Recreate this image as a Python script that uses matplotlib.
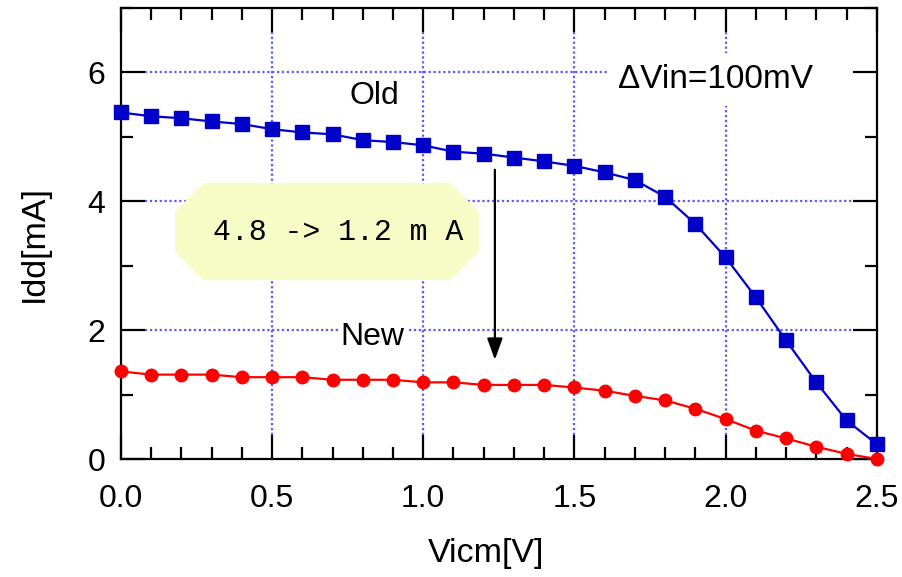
"""Idd vs Vicm for the old and new input stage (dVin = 100 mV)."""

import matplotlib

matplotlib.use("Agg")
import matplotlib.pyplot as plt  # noqa: E402
from matplotlib.patches import Polygon  # noqa: E402
from matplotlib.ticker import FormatStrFormatter, MultipleLocator  # noqa: E402

# Common-mode sweep [V]
vicm = [0.0, 0.1, 0.2, 0.3, 0.4, 0.5, 0.6, 0.7, 0.8, 0.9, 1.0, 1.1, 1.2,
        1.3, 1.4, 1.5, 1.6, 1.7, 1.8, 1.9, 2.0, 2.1, 2.2, 2.3, 2.4, 2.5]

# Supply current [mA]
idd_old = [5.38, 5.32, 5.29, 5.24, 5.20, 5.12, 5.07, 5.04, 4.95, 4.92, 4.87,
           4.77, 4.74, 4.68, 4.62, 4.55, 4.45, 4.33, 4.07, 3.65, 3.13, 2.51,
           1.84, 1.19, 0.60, 0.23]
idd_new = [1.36, 1.31, 1.31, 1.31, 1.27, 1.27, 1.27, 1.23, 1.23, 1.23, 1.19,
           1.19, 1.15, 1.15, 1.15, 1.11, 1.06, 0.98, 0.91, 0.78, 0.62, 0.44,
           0.32, 0.19, 0.08, 0.0]

x_major = [0.0, 0.5, 1.0, 1.5, 2.0, 2.5]
y_major = [0, 2, 4, 6]
x_lim = (0.0, 2.5)
y_lim = (0.0, 7.0)

plt.rcParams["font.family"] = ["Liberation Sans", "DejaVu Sans"]

fig = plt.figure(figsize=(9.02, 5.77), dpi=100)
ax = fig.add_axes([0.134, 0.2045, 0.838, 0.7815])
ax.set_xlim(*x_lim)
ax.set_ylim(*y_lim)

# Gnuplot-style dotted grid that stops where the inward major ticks end.
grid_kw = dict(color="#5a5aff", linestyle=(0, (1, 1.2)), linewidth=1.6, zorder=1)
x_inset = 0.079
y_inset = 0.373
for xv in x_major[1:-1]:
    ax.plot([xv, xv], [y_lim[0] + y_inset, y_lim[1] - y_inset], **grid_kw)
for yv in y_major[1:]:
    ax.plot([x_lim[0] + x_inset, x_lim[1] - x_inset], [yv, yv], **grid_kw)

ax.plot(vicm, idd_old, color="#0000c8", linewidth=1.6, marker="s",
        markersize=9.5, clip_on=False, zorder=4)
ax.plot(vicm, idd_new, color="#ff0000", linewidth=1.6, marker="o",
        markersize=9, clip_on=False, zorder=4)

text_kw = dict(fontsize=23, va="center", zorder=3)
white = dict(facecolor="white", edgecolor="none", pad=2)
ax.text(0.84, 5.63, "Old", ha="center", bbox=white, **text_kw)
ax.text(0.833, 1.90, "New", ha="center", bbox=white, **text_kw)
ax.text(1.643, 5.89, "ΔVin=100mV   ", ha="left",
        bbox=dict(facecolor="white", edgecolor="none", pad=8), fontsize=24,
        va="center", zorder=3)

# Pale yellow octagonal callout
bx0, bx1, by0, by1 = 0.179, 1.184, 2.78, 4.28
cx, cy = 0.093, 0.435
octagon = Polygon(
    [(bx0 + cx, by1), (bx1 - cx, by1), (bx1, by1 - cy), (bx1, by0 + cy),
     (bx1 - cx, by0), (bx0 + cx, by0), (bx0, by0 + cy), (bx0, by1 - cy)],
    closed=True, facecolor="#f7fbc6", edgecolor="none", zorder=2,
)
ax.add_patch(octagon)
ax.text(0.718, 3.53, "4.8 -> 1.2 m A", family="Liberation Mono", fontsize=21.5,
        ha="center", va="center", zorder=3)

ax.annotate("", xy=(1.237, 1.54), xytext=(1.237, 4.49),
            arrowprops=dict(arrowstyle="-|>,head_length=1.3,head_width=0.47",
                            color="black", linewidth=1.6, shrinkA=0, shrinkB=0),
            zorder=5)

ax.xaxis.set_major_locator(MultipleLocator(0.5))
ax.xaxis.set_minor_locator(MultipleLocator(0.1))
ax.yaxis.set_major_locator(MultipleLocator(2))
ax.yaxis.set_minor_locator(MultipleLocator(1))
ax.xaxis.set_major_formatter(FormatStrFormatter("%.1f"))
ax.yaxis.set_major_formatter(FormatStrFormatter("%d"))
ax.tick_params(which="both", direction="in", top=True, right=True, width=1.6,
               labelsize=23)
ax.tick_params(axis="x", which="major", length=17, pad=18)
ax.tick_params(axis="y", which="major", length=17, pad=11)
ax.tick_params(which="minor", length=8.5)
for spine in ax.spines.values():
    spine.set_linewidth(1.6)

ax.set_xlabel("Vicm[V]", fontsize=24.5)
ax.set_ylabel("Idd[mA]", fontsize=24.5)
ax.xaxis.set_label_coords(0.483, -0.175)
ax.yaxis.set_label_coords(-0.094, 0.477)

fig.savefig("out.png", dpi=100)
plt.close(fig)
